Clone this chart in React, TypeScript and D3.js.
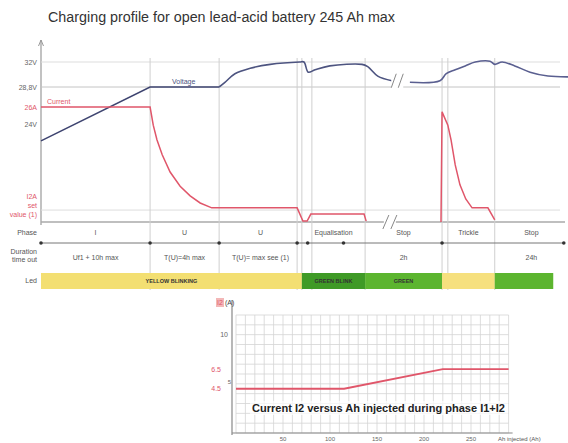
import React from "react";
import * as d3 from "d3";

// ---------- data (main chart, time in arbitrary units 0..100) ----------
const titleText = "Charging profile for open lead-acid battery 245 Ah max";

const voltageA: [number, number][] = [
  [0, 21.9], [20.7, 28.8], [33.8, 28.8], [34.9, 29.4], [36.8, 30.5], [39.7, 31.2],
  [43.5, 31.7], [49.1, 32.0], [49.9, 32.0], [50.7, 30.7], [52.0, 31.0], [54.8, 31.5],
  [60.9, 31.7], [62.0, 31.4], [63.9, 30.2], [66.6, 29.6],
];
const voltageB: [number, number][] = [
  [70.0, 29.4], [75.7, 29.6], [76.9, 30.5], [78.6, 31.0], [80.5, 31.5], [82.4, 32.0],
  [85.2, 32.1], [86.1, 31.7], [87.5, 32.0], [89.9, 31.5], [92.8, 30.7], [96.2, 30.2], [100, 30.1],
];
const currentA: [number, number][] = [
  [0, 26], [20.7, 26], [21.3, 21.9], [22.0, 18.6], [23.0, 15.2], [24.5, 11.3], [26.4, 8.1],
  [28.3, 5.9], [30.2, 4.3], [32.4, 3.2], [48.6, 3.2], [49.7, 0.2], [50.5, 0.2], [51.2, 1.8],
  [61.3, 1.8], [61.7, 0.2],
];
const currentB: [number, number][] = [
  [75.9, 0], [76.1, 24.9], [77.2, 21.9], [77.8, 18.6], [78.6, 12.9], [79.5, 8.4], [80.6, 5.2],
  [81.8, 3.2], [84.8, 3.2], [86.1, 0.5],
];
const boundaries = [20.7, 33.8, 48.6, 49.5, 51.4, 61.5, 76.1, 77.2, 86.1];
const phaseStarts = [0, 20.7, 33.8, 49.5, 61.5, 76.1, 86.1];
const phaseEnds = [20.7, 33.8, 49.5, 61.5, 76.1, 86.1, 100];
const phaseNames = ["I", "U", "U", "Equalisation", "Stop", "Trickle", "Stop"];
const durations = ["Uf1 + 10h max", "T(U)=4h max", "T(U)= max see (1)", "", "2h", "", "24h"];
const arrowMarks = [0, 20.7, 33.8, 48.6, 50.6, 57.4, 76.1, 99.2];
const ledStarts = [0, 49.5, 61.5, 76.1, 86.1];
const ledEnds = [49.5, 61.5, 76.1, 86.1, 97.2];
const ledColors = ["#f3df72", "#3f9a26", "#5cb52f", "#f6e07e", "#5cb52f"];
const ledLabels = ["YELLOW BLINKING", "GREEN BLINK", "GREEN", "", ""];
const voltTicks = [32, 28.8, 24];
const voltTickLabels = ["32V", "28,8V", "24V"];

// ---------- data (inset chart) ----------
const ahValues = [0, 115, 220, 290];
const i2Values = [4.5, 4.5, 6.5, 6.5];
const ahTicks = [50, 100, 150, 200, 250];
const i2TickValues = [10, 6.5, 5, 4.5];
const i2TickLabels = ["10", "6.5", "5", "4.5"];

const FONT = "'Liberation Sans', Arial, sans-serif";
const RED = "#e0566a";

export default function App() {
  const x = d3.scaleLinear().domain([0, 100]).range([41, 568]);
  const yV = d3.scaleLinear().domain([24, 32]).range([124.5, 62]);
  const yI = d3.scaleLinear().domain([0, 26]).range([222, 107]);
  const lineV = d3.line<[number, number]>().x((d) => x(d[0])).y((d) => yV(d[1])).curve(d3.curveCatmullRom.alpha(0.5));
  const lineVstraight = d3.line<[number, number]>().x((d) => x(d[0])).y((d) => yV(d[1]));
  const lineI = d3.line<[number, number]>().x((d) => x(d[0])).y((d) => yI(d[1]));

  const bx = d3.scaleLinear().domain([0, 300]).range([236, 518]);
  const by = d3.scaleLinear().domain([0, 12]).range([433, 315]);
  const lineB = d3.line<number>().x((_, i) => bx(ahValues[i])).y((d) => by(d));
  const gridX = d3.range(0, 291, 10);
  const gridY = d3.range(0, 13, 1);

  const breakX = x(67.6);

  return (
    <svg width={568} height={443} style={{ position: "absolute", left: 0, top: 0, background: "#fff", fontFamily: FONT }}>
      <rect width={568} height={443} fill="#fff" />
      <text x={48} y={22} fontSize={14} fill="#333" textLength={347} lengthAdjust="spacingAndGlyphs">{titleText}</text>

      {/* y axis */}
      <line x1={41} x2={41} y1={40} y2={225} stroke="#999" strokeWidth={1.2} />
      <path d="M38.5,46 L41,40 L43.5,46" fill="none" stroke="#999" />

      {/* horizontal grid */}
      {voltTicks.slice(0, 2).map((v) => (
        <line key={v} x1={41} x2={560} y1={yV(v)} y2={yV(v)} stroke={v === 32 ? "#ddd" : "#c4c4c4"} />
      ))}
      <line x1={41} x2={560} y1={yI(2.7)} y2={yI(2.7)} stroke="#ddd" />
      <line x1={41} x2={565} y1={yI(0)} y2={yI(0)} stroke="#aaa" strokeWidth={1.5} />

      {/* vertical phase boundaries */}
      {boundaries.map((b, i) => (
        <line key={i} x1={x(b)} x2={x(b)} y1={58} y2={290} stroke="#cfcfcf" />
      ))}

      {/* tick labels */}
      {voltTicks.map((v, i) => (
        <text key={v} x={37} y={yV(v) + 2.5} fontSize={7} fill="#666" textAnchor="end">{voltTickLabels[i]}</text>
      ))}
      <text x={37} y={yI(26) + 2.5} fontSize={7} fill={RED} textAnchor="end">26A</text>
      <text x={37} y={199} fontSize={7} fill={RED} textAnchor="end">I2A</text>
      <text x={37} y={208} fontSize={7} fill={RED} textAnchor="end">set</text>
      <text x={37} y={217} fontSize={7} fill={RED} textAnchor="end">value (1)</text>

      {/* series */}
      <path d={lineVstraight(voltageA.slice(0, 3)) || ""} fill="none" stroke="#3e4470" strokeWidth={1.6} />
      <path d={lineV(voltageA.slice(2)) || ""} fill="none" stroke="#4d5480" strokeWidth={1.6} />
      <path d={lineV(voltageB) || ""} fill="none" stroke="#5a5f90" strokeWidth={1.6} />
      <path d={lineI(currentA) || ""} fill="none" stroke={RED} strokeWidth={1.5} />
      <path d={lineI(currentB) || ""} fill="none" stroke={RED} strokeWidth={1.5} />
      <text x={47} y={104} fontSize={7} fill={RED}>Current</text>
      <text x={172} y={84} fontSize={7} fill="#4d5480">Voltage</text>

      {/* breaks */}
      <rect x={breakX - 6} y={yV(29.6) - 8} width={12} height={16} fill="#fff" />
      <line x1={breakX - 6} x2={breakX - 1} y1={yV(29.6) + 7} y2={yV(29.6) - 7} stroke="#888" />
      <line x1={breakX + 1} x2={breakX + 6} y1={yV(29.6) + 7} y2={yV(29.6) - 7} stroke="#888" />
      <rect x={x(66.2) - 6} y={yI(0) - 6} width={12} height={12} fill="#fff" />
      <line x1={x(66.2) - 7} x2={x(66.2) - 1} y1={yI(0) + 7} y2={yI(0) - 7} stroke="#888" />
      <line x1={x(66.2) + 1} x2={x(66.2) + 7} y1={yI(0) + 7} y2={yI(0) - 7} stroke="#888" />

      {/* phase row */}
      <text x={37} y={235} fontSize={7} fill="#555" textAnchor="end">Phase</text>
      {phaseNames.map((p, i) => (
        <text key={i} x={(x(phaseStarts[i]) + x(phaseEnds[i])) / 2} y={235} fontSize={7} fill="#555" textAnchor="middle">{p}</text>
      ))}
      <line x1={x(0)} x2={565} y1={243} y2={243} stroke="#777" />
      {arrowMarks.map((m, i) => (
        <circle key={i} cx={x(m)} cy={243} r={1.8} fill="#333" />
      ))}

      {/* duration row */}
      <text x={37} y={254} fontSize={7} fill="#555" textAnchor="end">Duration</text>
      <text x={37} y={262} fontSize={7} fill="#555" textAnchor="end">time out</text>
      {durations.map((d, i) => (
        <text key={i} x={(x(phaseStarts[i]) + x(phaseEnds[i])) / 2} y={260} fontSize={7} fill="#555" textAnchor="middle">{d}</text>
      ))}

      {/* led row */}
      <text x={37} y={283} fontSize={7} fill="#555" textAnchor="end">Led</text>
      {ledStarts.map((s, i) => (
        <g key={i}>
          <rect x={x(s)} y={273} width={x(ledEnds[i]) - x(s)} height={16} fill={ledColors[i]} />
          {ledLabels[i] && (
            <text x={(x(s) + x(ledEnds[i])) / 2} y={283} fontSize={5.5} fontWeight="bold" fill="#333" textAnchor="middle">{ledLabels[i]}</text>
          )}
        </g>
      ))}

      {/* ---------- inset chart ---------- */}
      {gridX.map((g) => (
        <line key={"gx" + g} x1={bx(g)} x2={bx(g)} y1={by(12)} y2={by(0)} stroke="#d4d4d4" strokeWidth={0.8} />
      ))}
      {gridY.map((g) => (
        <line key={"gy" + g} x1={bx(0)} x2={bx(290)} y1={by(g)} y2={by(g)} stroke="#d4d4d4" strokeWidth={0.8} />
      ))}
      <line x1={232} x2={232} y1={300} y2={435} stroke="#888" strokeWidth={1.2} />
      <line x1={232} x2={bx(290) + 4} y1={433} y2={433} stroke="#888" strokeWidth={1.2} />
      <rect x={216} y={298} width={8} height={9} fill="#f3b7b7" />
      <text x={217} y={305} fontSize={7} fill={RED}>I2</text>
      <text x={225} y={305} fontSize={7} fill="#444">(A)</text>
      {i2TickValues.map((v, i) => (
        <text key={v} x={v === 5 ? 231 : v === 10 ? 228 : 221} y={v === 5 ? by(v) : by(v) + 2.5} fontSize={v === 5 ? 6 : 7} fill={v === 10 || v === 5 ? "#666" : RED} textAnchor="end">{i2TickLabels[i]}</text>
      ))}
      <path d={lineB(i2Values) || ""} fill="none" stroke={RED} strokeWidth={1.8} />
      <rect x={250} y={401} width={258} height={14} fill="#fff" opacity={0.7} />
      <text x={252} y={412} fontSize={11} fontWeight="bold" fill="#222" textLength={253} lengthAdjust="spacingAndGlyphs">Current I2 versus Ah injected during phase I1+I2</text>
      {ahTicks.map((t) => (
        <text key={t} x={bx(t)} y={441} fontSize={6} fill="#666" textAnchor="middle">{t}</text>
      ))}
      <text x={498} y={441} fontSize={6} fill="#555">Ah injected (Ah)</text>
    </svg>
  );
}
